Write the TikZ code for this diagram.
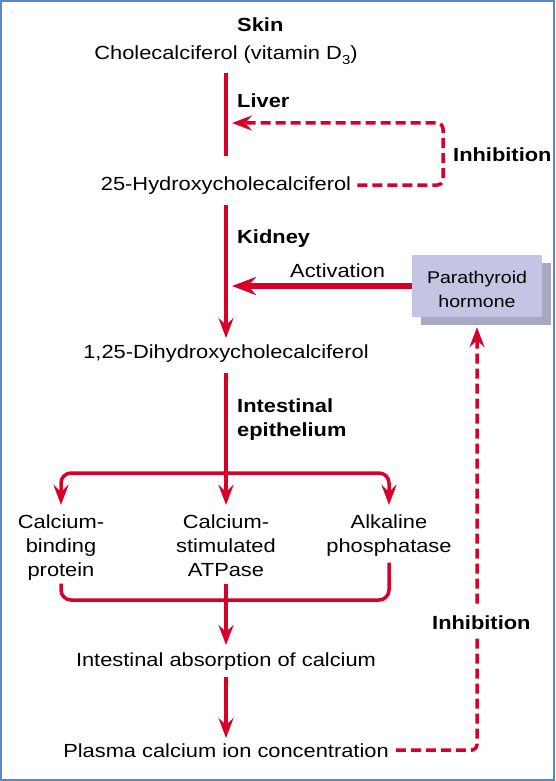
\documentclass[tikz,border=0pt]{standalone}
\usepackage{fontspec}
\setmainfont{Liberation Sans}[FakeStretch=1.15]
\usetikzlibrary{arrows.meta,shadows,calc}
\definecolor{vred}{RGB}{214,0,40}
\definecolor{frameblue}{RGB}{92,136,194}
\definecolor{boxfill}{RGB}{196,196,228}
\definecolor{boxshadow}{RGB}{168,168,196}
\begin{document}
\begin{tikzpicture}[x=1pt,y=-1pt,
  txt/.style={inner sep=0pt, font=\fontsize{19}{24}\selectfont},
  lbl/.style={inner sep=0pt, font=\fontsize{19}{24}\selectfont\bfseries},
  redline/.style={vred, line width=3.5pt},
  redarrow/.style={redline, -{Stealth[length=20pt,width=15pt,inset=7pt]}},
  dashline/.style={vred, line width=3.5pt, dash pattern=on 10pt off 5pt},
  dasharrow/.style={dashline, -{Stealth[length=20pt,width=15pt,inset=7pt]}},
  actarrow/.style={vred, line width=5.5pt, -{Stealth[length=24pt,width=18pt,inset=8pt]}},
  pthbox/.style={fill=boxfill, minimum width=130pt, minimum height=62pt, inner sep=0pt,
    drop shadow={shadow xshift=9pt, shadow yshift=-8pt, fill=boxshadow, opacity=1}},
  pthtext/.style={inner sep=0pt, align=center, font=\fontsize{17}{24}\selectfont}
]
\useasboundingbox (0,0) rectangle (555,781);
\fill[white] (0,0) rectangle (555,781);
\draw[frameblue, line width=2pt] (1,1) rectangle (554,780);

% text nodes
\node[lbl, anchor=base west] (skin) at (237,32) {Skin};
\node[txt, anchor=base] (chole) at (226,60) {Cholecalciferol (vitamin D\raisebox{-5pt}{\fontsize{13}{13}\selectfont 3})};
\node[lbl, anchor=base west] (liver) at (237,108) {Liver};
\node[txt, anchor=base] (hyd25) at (226,190) {25-Hydroxycholecalciferol};
\node[lbl, anchor=base west] (inh1) at (453,161) {Inhibition};
\node[lbl, anchor=base west] (kidney) at (237,243) {Kidney};
\node[txt, anchor=base west] (activ) at (290,277) {Activation};
\node[pthbox] (pth) at (477,286) {};
\node[pthtext, yshift=-3pt] (pthlabel) at (pth.center) {Parathyroid\\hormone};
\node[txt, anchor=base] (dihyd) at (226,358) {1,25-Dihydroxycholecalciferol};
\node[lbl, anchor=north west, align=left] (epith) at (237,398.4) {Intestinal\\epithelium};
\node[txt, anchor=north, align=center] (cbp) at (61,514.4) {Calcium-\\binding\\protein};
\node[txt, anchor=north, align=center] (stim) at (226,514.4) {Calcium-\\stimulated\\ATPase};
\node[txt, anchor=north, align=center] (alk) at (389,514.4) {Alkaline\\phosphatase};
\node[txt, anchor=base] (absorb) at (226,666) {Intestinal absorption of calcium};
\node[txt, anchor=base] (plasma) at (226,757) {Plasma calcium ion concentration};

% helper coordinates
\coordinate (liverpt) at (226,123);
\coordinate (inhc) at (443,123);
\coordinate (kidpt) at (226,286);
\coordinate (br) at (226,473);
\coordinate (bot) at (226,600);

% main pathway
\draw[redline, shorten <=8pt, shorten >=20pt] (chole.south) -- (hyd25.north);
\draw[redarrow, shorten <=11pt, shorten >=6pt] (hyd25.south) -- (dihyd.north);
\draw[redarrow, shorten <=11pt, shorten >=9.5pt] (dihyd.south) -- (stim.north);
\draw[redarrow, rounded corners=10pt, shorten >=9.5pt] (br) -| (cbp.north);
\draw[redarrow, rounded corners=10pt, shorten >=9.5pt] (br) -| (alk.north);
\draw[redline, rounded corners=10pt, shorten <=3pt, shorten >=6pt] (cbp.south) |- (bot) -| (alk.south);
\draw[redarrow, shorten <=7pt, shorten >=7pt] (stim.south) -- (absorb.north);
\draw[redarrow, shorten <=7pt, shorten >=5pt] (absorb.south) -- (plasma.north);

% feedback
\draw[dasharrow, rounded corners=6pt, shorten <=6pt, shorten >=6pt] (hyd25.east) -| (inhc) -- (liverpt);
\draw[actarrow, shorten >=6pt] (pth.west) -- (kidpt);
\draw[dasharrow, rounded corners=6pt, shorten <=7pt, shorten >=10pt] (plasma.east) -| (pth.south);
\node[lbl, anchor=base west, fill=white, inner xsep=2pt, inner ysep=8pt] (inh2) at (430,629) {Inhibition};
\end{tikzpicture}
\end{document}
